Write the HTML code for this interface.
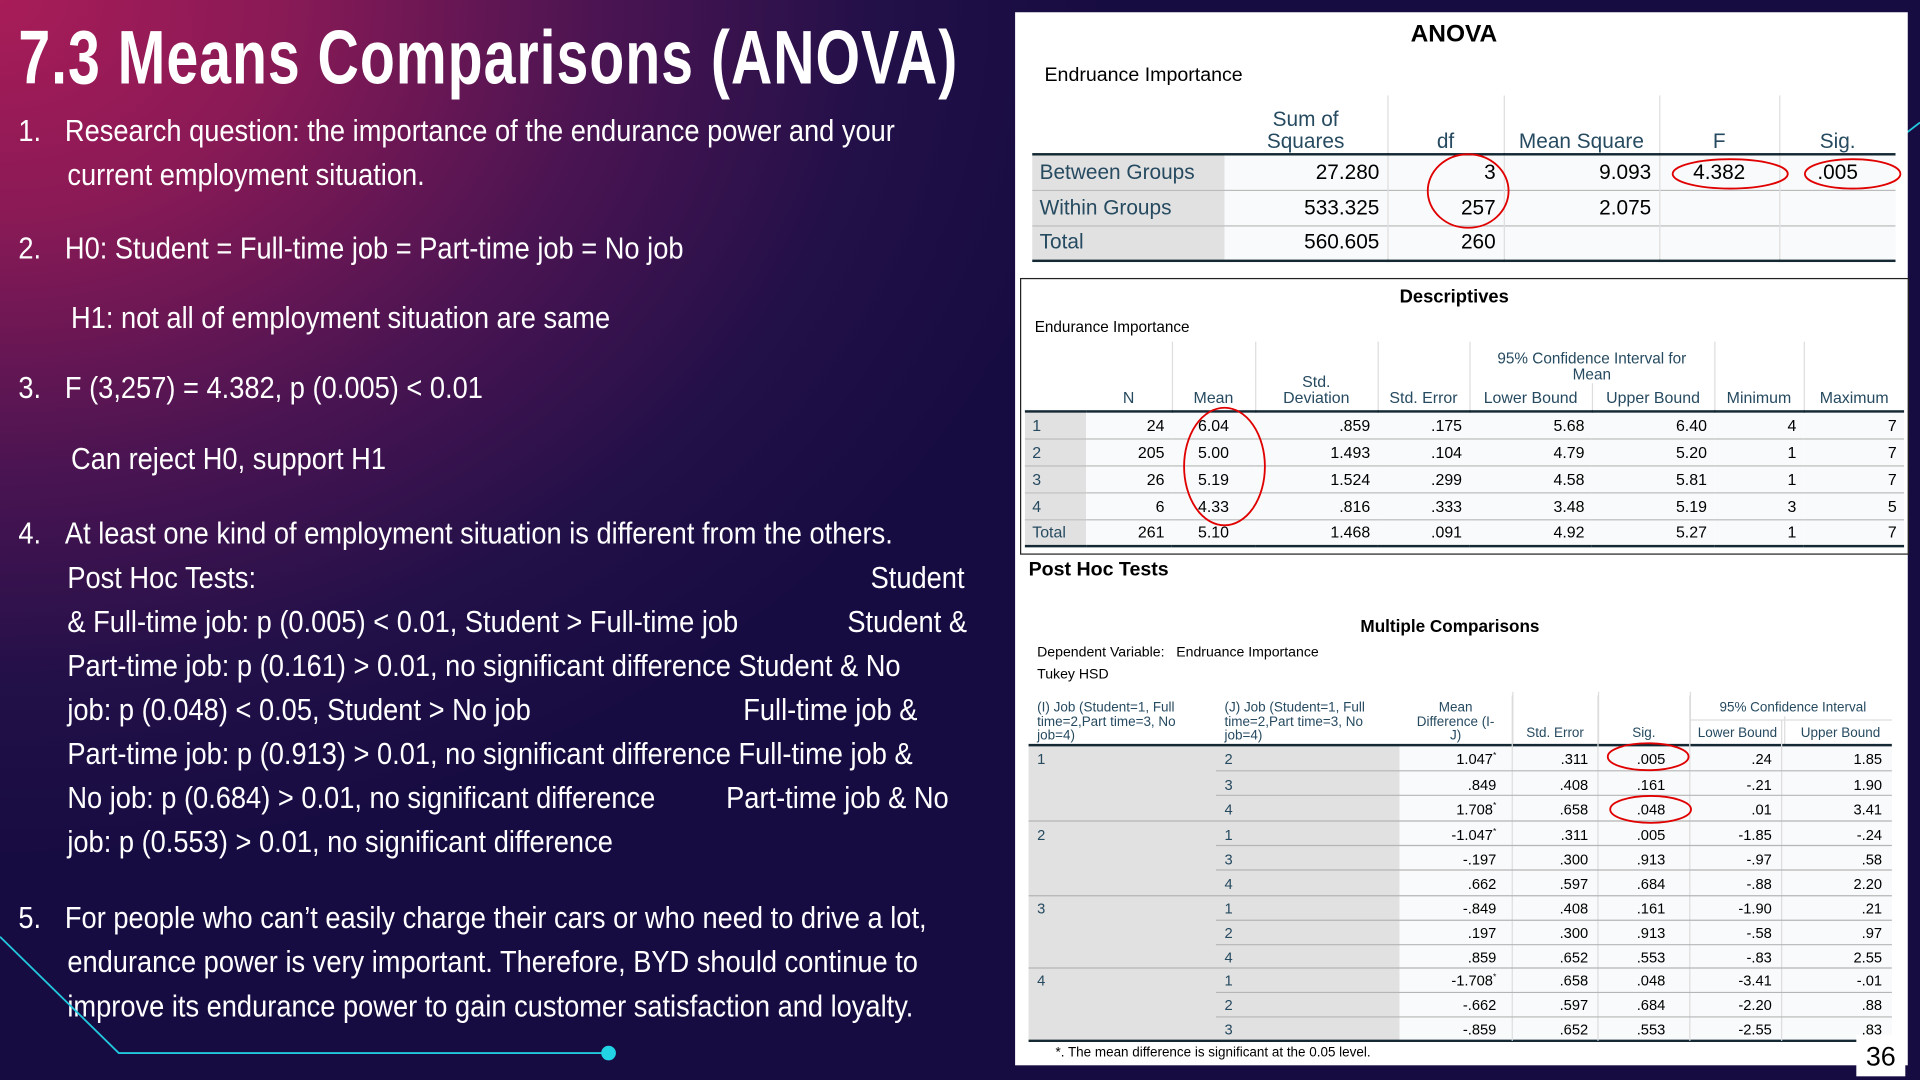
<!DOCTYPE html>
<html><head><meta charset="utf-8">
<style>
*{margin:0;padding:0;box-sizing:border-box}
html,body{width:1920px;height:1080px;overflow:hidden;background:#150c3e}
#w{position:absolute;left:0;top:0;width:1568px;height:882px;transform:scale(1.22449);transform-origin:0 0;
background:radial-gradient(ellipse 900px 700px at 0 0,#a81c58 0%,#8a1a56 25%,#4a1452 55%,#221048 80%,rgba(21,11,63,0) 100%),#170c42;overflow:hidden}
.ab{position:absolute;white-space:nowrap}
.t{font-family:"Liberation Sans",sans-serif;color:#fff;font-size:25px;line-height:30px;transform:scaleX(0.89);transform-origin:0 0}
#title{left:15px;top:12px;font-family:"Liberation Sans",sans-serif;font-weight:bold;font-size:62px;color:#fff;letter-spacing:1px;transform:scaleX(0.755);transform-origin:0 0}
#panel{left:829px;top:10px;width:729px;height:860px;background:#fff}
.s{font-family:"Liberation Sans","DejaVu Sans",sans-serif;color:#000}
table{border-collapse:collapse;position:absolute;font-family:"Liberation Sans",sans-serif;table-layout:fixed}
td{padding:0 6px;white-space:nowrap;overflow:hidden}
.lab{background:#e1e1e1;color:#264a60;text-align:left}
.num{background:#f9fafb;text-align:right;color:#000}
.h{color:#264a60;text-align:center;vertical-align:bottom;line-height:1.05}
</style></head><body>
<div id="w">
<div class="ab" id="title">7.3 Means Comparisons (ANOVA)</div>

<div class="ab t" style="left:15px;top:92px">1.</div>
<div class="ab t" style="left:53px;top:92px">Research question: the importance of the endurance power and your</div>
<div class="ab t" style="left:55px;top:128px">current employment situation.</div>
<div class="ab t" style="left:15px;top:188px">2.</div>
<div class="ab t" style="left:53px;top:188px">H0: Student = Full-time job = Part-time job = No job</div>
<div class="ab t" style="left:58px;top:245px">H1: not all of employment situation are same</div>
<div class="ab t" style="left:15px;top:302px">3.</div>
<div class="ab t" style="left:53px;top:302px">F (3,257) = 4.382, p (0.005) &lt; 0.01</div>
<div class="ab t" style="left:58px;top:360px">Can reject H0, support H1</div>
<div class="ab t" style="left:15px;top:421px">4.</div>
<div class="ab t" style="left:53px;top:421px">At least one kind of employment situation is different from the others.</div>
<div class="ab t" style="left:55px;top:457px">Post Hoc Tests:</div>
<div class="ab t" style="left:711px;top:457px">Student</div>
<div class="ab t" style="left:55px;top:493px">&amp; Full-time job: p (0.005) &lt; 0.01, Student &gt; Full-time job</div>
<div class="ab t" style="left:692px;top:493px">Student &amp;</div>
<div class="ab t" style="left:55px;top:529px">Part-time job: p (0.161) &gt; 0.01, no significant difference Student &amp; No</div>
<div class="ab t" style="left:55px;top:565px">job: p (0.048) &lt; 0.05, Student &gt; No job</div>
<div class="ab t" style="left:607px;top:565px">Full-time job &amp;</div>
<div class="ab t" style="left:55px;top:601px">Part-time job: p (0.913) &gt; 0.01, no significant difference Full-time job &amp;</div>
<div class="ab t" style="left:55px;top:637px">No job: p (0.684) &gt; 0.01, no significant difference</div>
<div class="ab t" style="left:593px;top:637px">Part-time job &amp; No</div>
<div class="ab t" style="left:55px;top:673px">job: p (0.553) &gt; 0.01, no significant difference</div>
<div class="ab t" style="left:15px;top:735px">5.</div>
<div class="ab t" style="left:53px;top:735px">For people who can’t easily charge their cars or who need to drive a lot,</div>
<div class="ab t" style="left:55px;top:771px">endurance power is very important. Therefore, BYD should continue to</div>
<div class="ab t" style="left:55px;top:807px">improve its endurance power to gain customer satisfaction and loyalty.</div>

<svg class="ab" style="left:0;top:0" width="1568" height="882">
<polyline points="0,765 97,860 497,860" fill="none" stroke="#22c7dc" stroke-width="1.5"/>
<circle cx="497" cy="860" r="6" fill="#22d3e6"/>
<line x1="1555" y1="110" x2="1568" y2="100" stroke="#22c7dc" stroke-width="1.5"/>
</svg>

<div class="ab" id="panel"></div>

<!-- ANOVA -->
<div class="ab s" style="left:1152px;top:17px;font-size:20px;font-weight:bold">ANOVA</div>
<div class="ab s" style="left:853px;top:53px;font-size:16px">Endruance Importance</div>
<table style="left:843px;top:78px;font-size:17px">
<colgroup><col style="width:157px"><col style="width:133px"><col style="width:95px"><col style="width:127px"><col style="width:98px"><col style="width:95px"></colgroup>
<tr style="height:48px"><td></td><td class="h" style="border-right:1px solid #ddd">Sum of<br>Squares</td><td class="h" style="border-right:1px solid #ddd">df</td><td class="h" style="border-right:1px solid #ddd">Mean Square</td><td class="h" style="border-right:1px solid #ddd">F</td><td class="h">Sig.</td></tr>
<tr style="height:29px;border-top:2px solid #152935;border-bottom:1px solid #bbb"><td class="lab">Between Groups</td><td class="num" style="border-right:1px solid #ddd">27.280</td><td class="num" style="border-right:1px solid #ddd">3</td><td class="num" style="border-right:1px solid #ddd">9.093</td><td class="num" style="border-right:1px solid #ddd;text-align:center">4.382</td><td class="num" style="text-align:center">.005</td></tr>
<tr style="height:29px;border-bottom:1px solid #bbb"><td class="lab">Within Groups</td><td class="num" style="border-right:1px solid #ddd">533.325</td><td class="num" style="border-right:1px solid #ddd">257</td><td class="num" style="border-right:1px solid #ddd">2.075</td><td class="num" style="border-right:1px solid #ddd"></td><td class="num"></td></tr>
<tr style="height:29px;border-bottom:2px solid #152935"><td class="lab">Total</td><td class="num" style="border-right:1px solid #ddd">560.605</td><td class="num" style="border-right:1px solid #ddd">260</td><td class="num" style="border-right:1px solid #ddd"></td><td class="num" style="border-right:1px solid #ddd"></td><td class="num"></td></tr>
</table>

<!-- Descriptives -->
<div class="ab" style="left:833px;top:227px;width:726px;height:226px;border:1.5px solid #222"></div>
<div class="ab s" style="left:1143px;top:234px;font-size:15px;font-weight:bold">Descriptives</div>
<div class="ab s" style="left:845px;top:260px;font-size:12.5px">Endurance Importance</div>
<table style="left:837px;top:279px;font-size:13px">
<colgroup><col style="width:50px"><col style="width:70px"><col style="width:68px"><col style="width:100px"><col style="width:75px"><col style="width:100px"><col style="width:100px"><col style="width:73px"><col style="width:82px"></colgroup>
<tr style="height:34px"><td rowspan="2"></td><td rowspan="2" class="h" style="border-right:1px solid #ddd;padding-bottom:3px">N</td><td rowspan="2" class="h" style="border-right:1px solid #ddd;padding-bottom:3px">Mean</td><td rowspan="2" class="h" style="border-right:1px solid #ddd;padding-bottom:3px">Std.<br>Deviation</td><td rowspan="2" class="h" style="border-right:1px solid #ddd;padding-bottom:3px">Std. Error</td><td colspan="2" class="h" style="border-right:1px solid #ddd;font-size:12.5px">95% Confidence Interval for<br>Mean</td><td rowspan="2" class="h" style="border-right:1px solid #ddd;padding-bottom:3px">Minimum</td><td rowspan="2" class="h" style="padding-bottom:3px">Maximum</td></tr>
<tr style="height:23px"><td class="h" style="border-right:1px solid #ddd;padding-bottom:3px">Lower Bound</td><td class="h" style="border-right:1px solid #ddd;padding-bottom:3px">Upper Bound</td></tr>
<tr style="height:22px;border-top:2px solid #152935;border-bottom:1px solid #bbb"><td class="lab">1</td><td class="num">24</td><td class="num" style="text-align:center">6.04</td><td class="num">.859</td><td class="num">.175</td><td class="num">5.68</td><td class="num">6.40</td><td class="num">4</td><td class="num">7</td></tr>
<tr style="height:22px;border-bottom:1px solid #bbb"><td class="lab">2</td><td class="num">205</td><td class="num" style="text-align:center">5.00</td><td class="num">1.493</td><td class="num">.104</td><td class="num">4.79</td><td class="num">5.20</td><td class="num">1</td><td class="num">7</td></tr>
<tr style="height:22px;border-bottom:1px solid #bbb"><td class="lab">3</td><td class="num">26</td><td class="num" style="text-align:center">5.19</td><td class="num">1.524</td><td class="num">.299</td><td class="num">4.58</td><td class="num">5.81</td><td class="num">1</td><td class="num">7</td></tr>
<tr style="height:22px;border-bottom:1px solid #bbb"><td class="lab">4</td><td class="num">6</td><td class="num" style="text-align:center">4.33</td><td class="num">.816</td><td class="num">.333</td><td class="num">3.48</td><td class="num">5.19</td><td class="num">3</td><td class="num">5</td></tr>
<tr style="height:22px;border-bottom:2px solid #152935"><td class="lab">Total</td><td class="num">261</td><td class="num" style="text-align:center">5.10</td><td class="num">1.468</td><td class="num">.091</td><td class="num">4.92</td><td class="num">5.27</td><td class="num">1</td><td class="num">7</td></tr>
</table>

<!-- Post hoc -->
<div class="ab s" style="left:840px;top:457px;font-size:16px;font-weight:bold">Post Hoc Tests</div>
<div class="ab s" style="left:1111px;top:503px;font-size:14px;font-weight:bold">Multiple Comparisons</div>
<div class="ab s" style="left:847px;top:527px;font-size:11.5px">Dependent Variable:&nbsp;&nbsp;&nbsp;Endruance Importance</div>
<div class="ab s" style="left:847px;top:545px;font-size:11.5px">Tukey HSD</div>
<table style="left:840px;top:565px;font-size:12px">
<colgroup><col style="width:153px"><col style="width:150px"><col style="width:92px"><col style="width:70px"><col style="width:75px"><col style="width:75px"><col style="width:90px"></colgroup>
<tr style="height:20px"><td rowspan="2" class="h" style="text-align:left;font-size:11px;padding-left:7px">(I) Job (Student=1, Full<br>time=2,Part time=3, No<br>job=4)</td><td rowspan="2" class="h" style="text-align:left;font-size:11px;padding-left:7px">(J) Job (Student=1, Full<br>time=2,Part time=3, No<br>job=4)</td><td rowspan="2" class="h" style="border-right:1px solid #ddd;font-size:11px">Mean<br>Difference (I-<br>J)</td><td rowspan="2" class="h" style="border-right:1px solid #ddd;font-size:11px;padding-bottom:2px">Std. Error</td><td rowspan="2" class="h" style="border-right:1px solid #ddd;font-size:11px;padding-bottom:2px">Sig.</td><td colspan="2" class="h" style="font-size:11px">95% Confidence Interval</td></tr>
<tr style="height:23px"><td class="h" style="border-right:1px solid #ddd;font-size:11px;padding-bottom:2px">Lower Bound</td><td class="h" style="font-size:11px;padding-bottom:2px">Upper Bound</td></tr>
</table>
<svg class="ab" style="left:0;top:0" width="1568" height="882">
<rect x="840" y="609" width="303" height="241" fill="#e1e1e1"/>
<rect x="1143" y="609" width="402" height="241" fill="#f9fafb"/>
<line x1="840" y1="608.5" x2="1545" y2="608.5" stroke="#152935" stroke-width="2"/>
<line x1="840" y1="850" x2="1545" y2="850" stroke="#152935" stroke-width="2"/>
<g stroke="#ddd" stroke-width="1">
<line x1="1235" y1="568" x2="1235" y2="850"/>
<line x1="1305" y1="568" x2="1305" y2="850"/>
<line x1="1380" y1="568" x2="1380" y2="850"/>
<line x1="1455" y1="588" x2="1455" y2="850"/>
<line x1="1380" y1="588" x2="1545" y2="588"/>
</g>
</svg>
<svg class="ab" style="left:0;top:0" width="1568" height="882" font-family="Liberation Sans,sans-serif" font-size="12">
<g stroke="#b5b5b5" stroke-width="1">
<line x1="993" y1="629.5" x2="1545" y2="629.5"/><line x1="993" y1="649.5" x2="1545" y2="649.5"/>
<line x1="840" y1="670.5" x2="1545" y2="670.5"/>
<line x1="993" y1="690.5" x2="1545" y2="690.5"/><line x1="993" y1="710.5" x2="1545" y2="710.5"/>
<line x1="840" y1="731.5" x2="1545" y2="731.5"/>
<line x1="993" y1="751.5" x2="1545" y2="751.5"/><line x1="993" y1="771.5" x2="1545" y2="771.5"/>
<line x1="840" y1="790.5" x2="1545" y2="790.5"/>
<line x1="993" y1="810.5" x2="1545" y2="810.5"/><line x1="993" y1="830.5" x2="1545" y2="830.5"/>
</g>
<g fill="#264a60">
<text x="847" y="624">1</text><text x="847" y="686">2</text><text x="847" y="746">3</text><text x="847" y="805">4</text>
<text x="1000" y="624">2</text><text x="1000" y="645">3</text><text x="1000" y="665">4</text>
<text x="1000" y="686">1</text><text x="1000" y="706">3</text><text x="1000" y="726">4</text>
<text x="1000" y="746">1</text><text x="1000" y="766">2</text><text x="1000" y="786">4</text>
<text x="1000" y="805">1</text><text x="1000" y="825">2</text><text x="1000" y="845">3</text>
</g>
<g text-anchor="end" fill="#000">
<g transform="translate(1222,0)"><text y="624">1.047<tspan font-size="7" dy="-5">*</tspan></text><text y="645">.849</text><text y="665">1.708<tspan font-size="7" dy="-5">*</tspan></text><text y="686">-1.047<tspan font-size="7" dy="-5">*</tspan></text><text y="706">-.197</text><text y="726">.662</text><text y="746">-.849</text><text y="766">.197</text><text y="786">.859</text><text y="805">-1.708<tspan font-size="7" dy="-5">*</tspan></text><text y="825">-.662</text><text y="845">-.859</text></g>
<g transform="translate(1297,0)"><text y="624">.311</text><text y="645">.408</text><text y="665">.658</text><text y="686">.311</text><text y="706">.300</text><text y="726">.597</text><text y="746">.408</text><text y="766">.300</text><text y="786">.652</text><text y="805">.658</text><text y="825">.597</text><text y="845">.652</text></g>
<g transform="translate(1360,0)"><text y="624">.005</text><text y="645">.161</text><text y="665">.048</text><text y="686">.005</text><text y="706">.913</text><text y="726">.684</text><text y="746">.161</text><text y="766">.913</text><text y="786">.553</text><text y="805">.048</text><text y="825">.684</text><text y="845">.553</text></g>
<g transform="translate(1447,0)"><text y="624">.24</text><text y="645">-.21</text><text y="665">.01</text><text y="686">-1.85</text><text y="706">-.97</text><text y="726">-.88</text><text y="746">-1.90</text><text y="766">-.58</text><text y="786">-.83</text><text y="805">-3.41</text><text y="825">-2.20</text><text y="845">-2.55</text></g>
<g transform="translate(1537,0)"><text y="624">1.85</text><text y="645">1.90</text><text y="665">3.41</text><text y="686">-.24</text><text y="706">.58</text><text y="726">2.20</text><text y="746">.21</text><text y="766">.97</text><text y="786">2.55</text><text y="805">-.01</text><text y="825">.88</text><text y="845">.83</text></g>
</g>
<text x="862" y="863" font-size="11">*. The mean difference is significant at the 0.05 level.</text>
<rect x="1516" y="845" width="40" height="34" fill="#fff"/>
<text x="1536" y="870" font-size="22" text-anchor="middle">36</text>
<g fill="none" stroke="#e00000" stroke-width="1.5">
<ellipse cx="1199" cy="156" rx="33" ry="30"/>
<ellipse cx="1413" cy="142" rx="47" ry="12"/>
<ellipse cx="1513" cy="142" rx="39" ry="12"/>
<ellipse cx="1000" cy="381" rx="33" ry="48"/>
<ellipse cx="1346" cy="618" rx="33" ry="11"/>
<ellipse cx="1348" cy="661" rx="33" ry="11"/>
</g>
</svg>
</div>
</body></html>
